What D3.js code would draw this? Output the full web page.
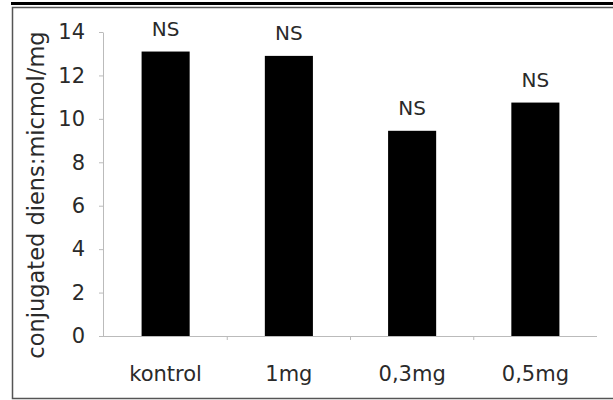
<!DOCTYPE html>
<html>
<head>
<meta charset="utf-8">
<script src="https://cdn.jsdelivr.net/npm/d3@7"></script>
<style>
  body { margin: 0; background: #fff; }
  svg { display: block; font-family: "DejaVu Sans", sans-serif; }
</style>
</head>
<body>
<svg id="chart" width="613" height="400"></svg>
<script>
const categories = ["kontrol", "1mg", "0,3mg", "0,5mg"];
const values = [13.1, 12.9, 9.45, 10.75];
const marks = ["NS", "NS", "NS", "NS"];
const yTicks = [0, 2, 4, 6, 8, 10, 12, 14];
const yLabel = "conjugated diens:micmol/mg";

const svg = d3.select("#chart");
const W = 613, H = 400;

// frame: thick rule on top, thin gray box
svg.append("rect").attr("x", 11).attr("y", 2).attr("width", W - 11).attr("height", 3).attr("fill", "#000");
svg.append("path")
  .attr("d", `M${W},7.5 H12.5 V398.5 H${W}`)
  .attr("fill", "none").attr("stroke", "#555").attr("stroke-width", 1.5);

const x = d3.scaleBand().domain(categories).range([104, 597]).paddingInner(0.61).paddingOuter(0.305);
const y = d3.scaleLinear().domain([0, 14]).range([336, 32]);

// y axis
const yAxis = svg.append("g").attr("transform", "translate(103,0)")
  .call(d3.axisLeft(y).tickValues(yTicks).tickSize(4).tickPadding(14).tickSizeOuter(0));
yAxis.select(".domain").attr("stroke", "#bbb");
yAxis.selectAll(".tick line").attr("stroke", "#bbb");
yAxis.selectAll("text").attr("font-size", 21).attr("fill", "#2a2a2a").attr("font-family", "DejaVu Sans");

// x axis
const xAxis = svg.append("g").attr("transform", "translate(0,336)")
  .call(d3.axisBottom(x).tickSize(0).tickPadding(30).tickSizeOuter(0));
xAxis.select(".domain").attr("stroke", "#bbb").attr("d", "M103,0.5H597");
xAxis.selectAll("text").attr("font-size", 21).attr("fill", "#2a2a2a").attr("font-family", "DejaVu Sans");
xAxis.selectAll(".sep").data(categories.slice(1)).join("line")
  .attr("x1", d => x(d) - x.step() * x.paddingInner() / 2)
  .attr("x2", d => x(d) - x.step() * x.paddingInner() / 2)
  .attr("y1", 0).attr("y2", 4).attr("stroke", "#bbb");

// bars
svg.append("g").selectAll("rect").data(values).join("rect")
  .attr("x", (d, i) => x(categories[i]))
  .attr("y", d => y(d))
  .attr("width", x.bandwidth())
  .attr("height", d => y(0) - y(d))
  .attr("fill", "#000");

// NS marks
svg.append("g").selectAll("text").data(values).join("text")
  .attr("x", (d, i) => x(categories[i]) + x.bandwidth() / 2)
  .attr("y", d => y(d) - 16)
  .attr("text-anchor", "middle")
  .attr("font-size", 20)
  .attr("fill", "#2a2a2a")
  .text((d, i) => marks[i]);

// y label
svg.append("text")
  .attr("transform", "translate(44,195) rotate(-90)")
  .attr("text-anchor", "middle")
  .attr("font-size", 22.5)
  .attr("fill", "#2a2a2a")
  .text(yLabel);
</script>
</body>
</html>
